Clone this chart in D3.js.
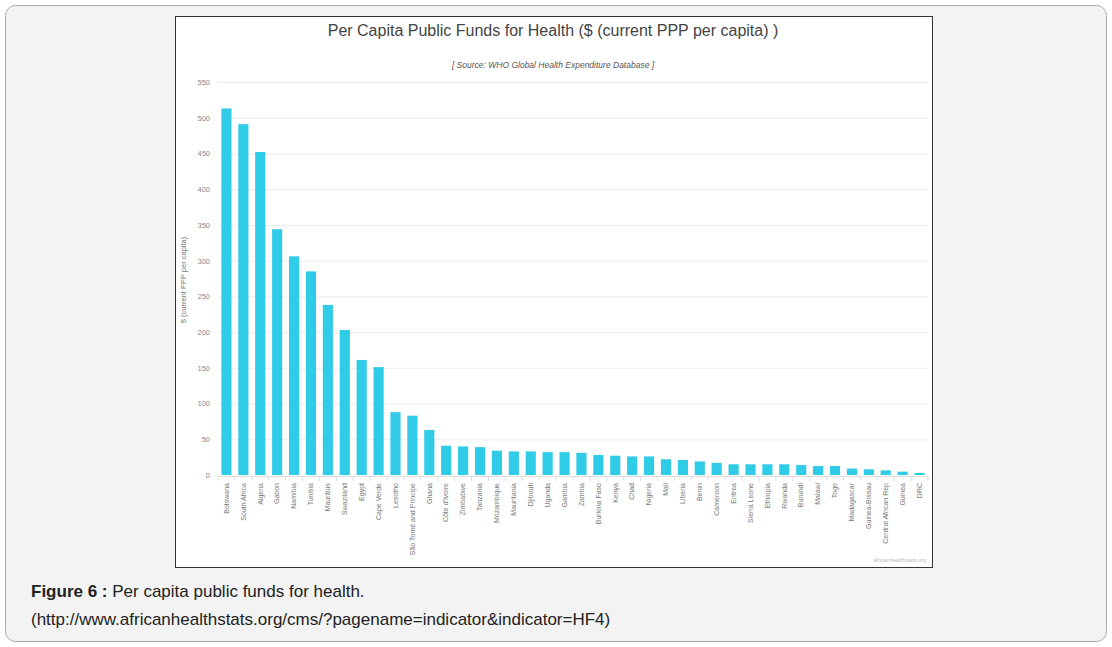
<!DOCTYPE html>
<html>
<head>
<meta charset="utf-8">
<script src="https://cdn.jsdelivr.net/npm/d3@7"></script>
<style>
  body { margin: 0; background: #fff; font-family: Arial, "Liberation Sans", sans-serif; }
</style>
</head>
<body>
<div id="chart"></div>
<script>
// data
const countries = ["Botswana", "South Africa", "Algeria", "Gabon", "Namibia", "Tunisia", "Mauritius",
    "Swaziland", "Egypt", "Cape Verde", "Lesotho", "São Tomé and Principe", "Ghana", "Côte d'Ivoire",
    "Zimbabwe", "Tanzania", "Mozambique", "Mauritania", "Djibouti", "Uganda", "Gambia", "Zambia",
    "Burkina Faso", "Kenya", "Chad", "Nigeria", "Mali", "Liberia", "Benin", "Cameroon", "Eritrea",
    "Sierra Leone", "Ethiopia", "Rwanda", "Burundi", "Malawi", "Togo", "Madagascar", "Guinea-Bissau",
    "Central African Rep", "Guinea", "DRC"]
const funds = [513, 491, 452, 344, 306, 285, 238, 203, 161, 151, 88, 83, 63, 41,
    40, 39, 34, 33, 33, 32, 32, 31, 28, 27, 26, 26, 22, 21, 19, 17, 15,
    15, 15, 15, 14, 12.5, 12.5, 9, 8, 6.5, 4.7, 2.8]
const yTicks = [0, 50, 100, 150, 200, 250, 300, 350, 400, 450, 500, 550]

const W = 1112, H = 647
const svg = d3.select("#chart").append("svg")
    .attr("width", W)
    .attr("height", H)
    .style("display", "block")

// page frame
svg.append("rect")
    .attr("x", 5.5).attr("y", 5.5)
    .attr("width", W - 11).attr("height", H - 11)
    .attr("rx", 10)
    .attr("fill", "#f3f3f3")
    .attr("stroke", "#a9a9a9")

// chart picture
svg.append("rect")
    .attr("x", 175.5).attr("y", 16.5)
    .attr("width", 757).attr("height", 551)
    .attr("fill", "#fff")
    .attr("stroke", "#333")

svg.append("text")
    .attr("x", 553).attr("y", 36)
    .attr("text-anchor", "middle")
    .attr("font-size", 16)
    .attr("fill", "#444")
    .text("Per Capita Public Funds for Health ($ (current PPP per capita) )")

svg.append("text")
    .attr("x", 553).attr("y", 68)
    .attr("text-anchor", "middle")
    .attr("font-size", 8.5)
    .attr("font-style", "italic")
    .attr("fill", "#555")
    .text("[ Source: WHO Global Health Expenditure Database ]")

const x = d3.scaleBand()
    .domain(countries)
    .range([218, 928])
    .paddingInner(0.4)
    .paddingOuter(0.2)

const y = d3.scaleLinear()
    .domain([0, 550])
    .range([475, 82])

// grid
svg.append("g")
    .selectAll("line")
    .data(yTicks.slice(1))
    .enter()
    .append("line")
    .attr("x1", 218).attr("x2", 928)
    .attr("y1", d => y(d) + 0.5).attr("y2", d => y(d) + 0.5)
    .attr("stroke", "#ececec")

// y labels
const yAxis = svg.append("g")
    .attr("transform", "translate(210,0)")
    .call(d3.axisLeft(y).tickValues(yTicks).tickSize(0).tickPadding(0))
yAxis.select(".domain").remove()
yAxis.selectAll("text")
    .attr("font-size", 7.5)
    .attr("font-family", "Arial, sans-serif")
    .attr("fill", "#888")

svg.append("text")
    .attr("transform", "translate(186,280) rotate(-90)")
    .attr("text-anchor", "middle")
    .attr("font-size", 7.5)
    .attr("fill", "#777")
    .text("$ (current PPP per capita)")

// bars
svg.append("g")
    .selectAll("rect")
    .data(funds)
    .enter()
    .append("rect")
    .attr("x", (d, i) => x(countries[i]))
    .attr("width", x.bandwidth())
    .attr("y", d => y(d))
    .attr("height", d => y(0) - y(d))
    .attr("fill", "#2fcbe7")

// x axis
const xAxis = svg.append("g")
    .attr("transform", "translate(0,476)")
    .call(d3.axisBottom(x).tickSize(0).tickPadding(6))
xAxis.select(".domain").attr("stroke", "#ddd")
xAxis.selectAll("text")
    .attr("font-size", 7)
    .attr("font-family", "Arial, sans-serif")
    .attr("fill", "#777")
    .attr("text-anchor", "end")
    .attr("transform", "rotate(-90)")
    .attr("x", -7)
    .attr("y", 0)
    .attr("dy", "0.32em")

// tick marks between bands
svg.append("g")
    .selectAll("line")
    .data(countries.concat([null]))
    .enter()
    .append("line")
    .attr("x1", (d, i) => 218 + i * x.step())
    .attr("x2", (d, i) => 218 + i * x.step())
    .attr("y1", 476).attr("y2", 481)
    .attr("stroke", "#ddd")

svg.append("text")
    .attr("x", 926).attr("y", 562)
    .attr("text-anchor", "end")
    .attr("font-size", 5.5)
    .attr("fill", "#bbb")
    .text("africanhealthstats.org")

// caption
const cap = svg.append("text")
    .attr("x", 31).attr("y", 597)
    .attr("font-size", 17)
    .attr("fill", "#222")
cap.append("tspan").attr("font-weight", "bold").text("Figure 6 :")
cap.append("tspan").text(" Per capita public funds for health.")

svg.append("text")
    .attr("x", 31).attr("y", 625)
    .attr("font-size", 17)
    .attr("fill", "#222")
    .text("(http://www.africanhealthstats.org/cms/?pagename=indicator&indicator=HF4)")
</script>
</body>
</html>
